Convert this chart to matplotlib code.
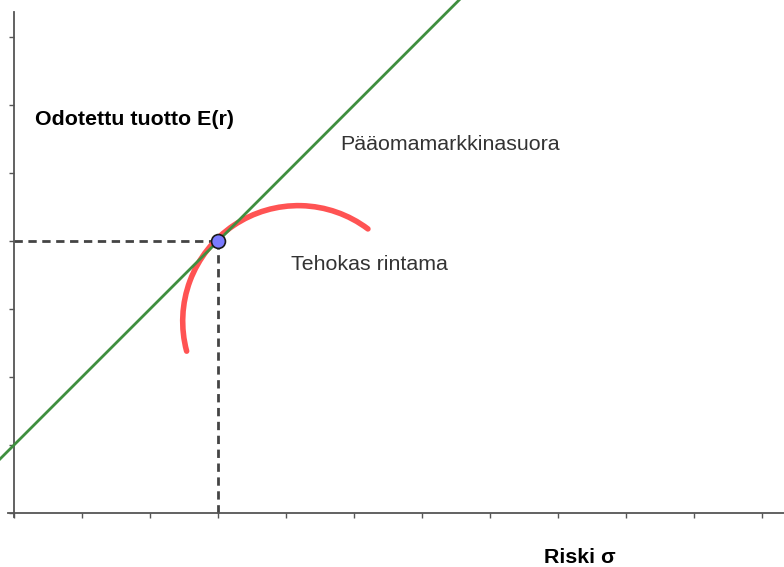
import matplotlib
matplotlib.use("Agg")
import matplotlib.pyplot as plt
import matplotlib.patches as patches
import numpy as np

plt.rcParams['font.family'] = ['Liberation Sans', 'DejaVu Sans']

cml_intercept = 1.0          # pääomamarkkinasuora: y = x + 1
cml_slope = 1.0
tangent_point = (3.0, 4.0)   # tangency portfolio
frontier_center = (4.18, 2.82)
frontier_radius = 1.70
frontier_angles = (53, 195)  # degrees, start / end of arc
x_ticks = list(range(0, 12))
y_ticks = list(range(0, 8))

fig = plt.figure(figsize=(7.84, 5.67), dpi=100)
ax = fig.add_axes([0, 0, 1, 1])
ax.set_xlim(-0.206, 11.32)
ax.set_ylim(-0.794, 7.544)

# axes like GeoGebra
for s in ['top', 'right']:
    ax.spines[s].set_visible(False)
ax.spines['left'].set_position(('data', 0))
ax.spines['bottom'].set_position(('data', 0))
ax.spines['left'].set_bounds(-0.06, 7.37)
ax.spines['bottom'].set_bounds(-0.09, 11.32)
for s in ['left', 'bottom']:
    ax.spines[s].set_color('#555555')
    ax.spines[s].set_linewidth(1.3)
ax.set_xticks(x_ticks)
ax.set_yticks(y_ticks)
ax.tick_params(direction='out', length=3.5, width=1.0, color='#555555',
               labelbottom=False, labelleft=False)

# capital market line
xs = np.array([-0.3, 11.5])
ax.plot(xs, cml_intercept + cml_slope * xs, color='#3f8f3f', lw=2.0, zorder=3)

# efficient frontier (arc)
arc = patches.Arc(frontier_center, 2 * frontier_radius, 2 * frontier_radius,
                  theta1=frontier_angles[0], theta2=frontier_angles[1],
                  color='#ff4a4a', lw=4.0, alpha=0.95, zorder=2,
                  capstyle='round')
ax.add_patch(arc)

# dashed guides
px, py = tangent_point
ax.plot([0, px], [py, py], color='#444444', lw=2, ls=(0, (3, 2)), zorder=1)
ax.plot([px, px], [0, py], color='#444444', lw=2, ls=(0, (3, 2)), zorder=1)

ax.plot(px, py, 'o', ms=10, mfc='#7b7bff', mec='#1a1a1a', mew=1.2, zorder=5)

fs = 15.4
ax.text(0.31, 5.79, 'Odotettu tuotto E(r)', fontsize=fs, fontweight='bold',
        ha='left', va='center', color='black')
ax.text(4.79, 5.42, 'Pääomamarkkinasuora', fontsize=fs,
        ha='left', va='center', color='#333333')
ax.text(4.07, 3.66, 'Tehokas rintama', fontsize=fs,
        ha='left', va='center', color='#333333')
ax.text(7.79, -0.66, 'Riski σ', fontsize=fs, fontweight='bold',
        ha='left', va='center', color='black')

fig.savefig('out.png', dpi=100)
